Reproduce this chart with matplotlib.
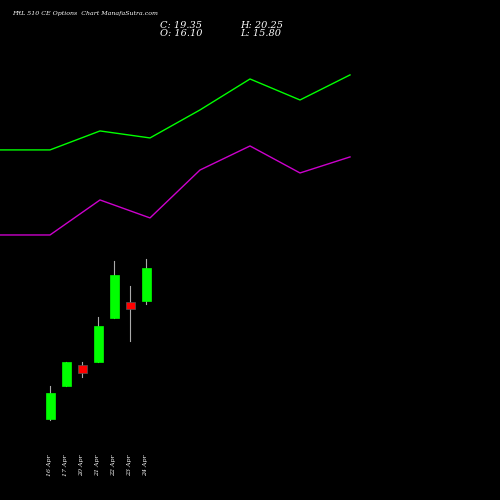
import matplotlib
matplotlib.use("Agg")
import matplotlib.pyplot as plt
import numpy as np

dates = ["16 Apr", "17 Apr", "20 Apr", "21 Apr", "22 Apr", "23 Apr", "24 Apr"]
opens = [4.47, 7.72, 9.79, 10.09, 14.42, 16.00, 16.10]
closes = [7.03, 10.09, 9.00, 13.64, 18.66, 15.31, 19.35]
highs = [7.72, 10.09, 10.09, 14.52, 20.04, 17.58, 20.25]
lows = [4.37, 7.72, 8.61, 10.09, 14.42, 12.16, 15.80]
upper_band = [30.98, 32.85, 32.16, 34.92, 37.97, 35.90, 38.37]
lower_band = [22.60, 26.05, 24.28, 29.00, 31.37, 28.71, 30.29]

fig = plt.figure(figsize=(5, 5), dpi=100, facecolor="black")
ax = fig.add_axes([0, 0, 1, 1], facecolor="black")
ax.set_xlim(0, 500)
ax.set_ylim(-3.51, 45.75)
ax.axis("off")

cx = 50 + 16 * np.arange(len(dates))
lx = np.concatenate([[0], 50 + 50 * np.arange(len(dates))])
ax.plot(lx, [upper_band[0]] + upper_band, color="#00ff00", lw=1)
ax.plot(lx, [lower_band[0]] + lower_band, color="#cc00cc", lw=1)

for x, o, c, h, l in zip(cx, opens, closes, highs, lows):
    col = "#00ff00" if c >= o else "#ff0000"
    ax.plot([x, x], [l, h], color="#aaaaaa", lw=0.8, zorder=2)
    ax.bar(x, abs(c - o), bottom=min(o, c), width=9, color=col,
           edgecolor="#555555" if c < o else col, lw=0.5, zorder=3)

for x, d in zip(cx, dates):
    fig.text(x / 500, 0.07, d, rotation=90, color="white", fontsize=4.5,
             ha="center", va="center", family="DejaVu Serif", style="italic")

fig.text(0.024, 0.972, "FRL 510 CE Options  Chart ManafaSutra.com", color="white",
         fontsize=4.5, family="DejaVu Serif", style="italic", va="center")
fig.text(0.32, 0.95, "C: 19.35", color="white", fontsize=7, family="DejaVu Serif", style="italic", va="center")
fig.text(0.32, 0.932, "O: 16.10", color="white", fontsize=7, family="DejaVu Serif", style="italic", va="center")
fig.text(0.48, 0.95, "H: 20.25", color="white", fontsize=7, family="DejaVu Serif", style="italic", va="center")
fig.text(0.48, 0.932, "L: 15.80", color="white", fontsize=7, family="DejaVu Serif", style="italic", va="center")

fig.savefig("out.png", dpi=100, facecolor="black")
